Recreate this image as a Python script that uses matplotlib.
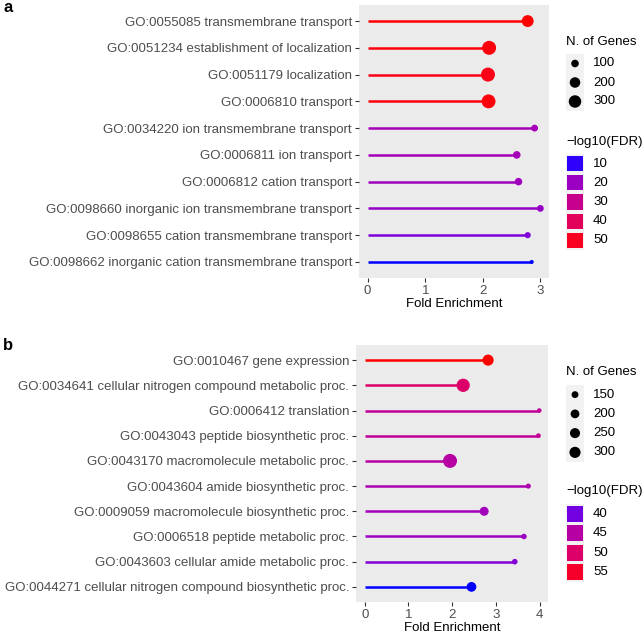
import numpy as np
import matplotlib.pyplot as plt
from matplotlib.colors import ListedColormap, Normalize
import matplotlib.transforms as mtrans

plt.rcParams['font.family'] = ['Liberation Sans', 'DejaVu Sans']

W, H = 643, 633

# ---- panel a data ----
terms_a = ['GO:0055085 transmembrane transport',
           'GO:0051234 establishment of localization',
           'GO:0051179 localization',
           'GO:0006810 transport',
           'GO:0034220 ion transmembrane transport',
           'GO:0006811 ion transport',
           'GO:0006812 cation transport',
           'GO:0098660 inorganic ion transmembrane transport',
           'GO:0098655 cation transmembrane transport',
           'GO:0098662 inorganic cation transmembrane transport']
fold_a = [2.78, 2.11, 2.09, 2.10, 2.90, 2.59, 2.62, 3.00, 2.78, 2.85]
genes_a = [266, 392, 395, 388, 84, 100, 98, 82, 71, 56]
fdr_a = [53, 52, 51, 52, 22, 22, 21, 19, 16, 9]
size_breaks_a = [100, 200, 300]
fdr_breaks_a = [10, 20, 30, 40, 50]

# ---- panel b data ----
terms_b = ['GO:0010467 gene expression',
           'GO:0034641 cellular nitrogen compound metabolic proc.',
           'GO:0006412 translation',
           'GO:0043043 peptide biosynthetic proc.',
           'GO:0043170 macromolecule metabolic proc.',
           'GO:0043604 amide biosynthetic proc.',
           'GO:0009059 macromolecule biosynthetic proc.',
           'GO:0006518 peptide metabolic proc.',
           'GO:0043603 cellular amide metabolic proc.',
           'GO:0044271 cellular nitrogen compound biosynthetic proc.']
fold_b = [2.82, 2.25, 3.99, 3.97, 1.95, 3.74, 2.73, 3.64, 3.43, 2.44]
genes_b = [299, 422, 122, 123, 472, 125, 209, 129, 130, 237]
fdr_b = [57, 50, 46, 46, 45, 44, 43, 42.5, 41, 37.5]
size_breaks_b = [150, 200, 250, 300]
fdr_breaks_b = [40, 45, 50, 55]


# blue -> red gradient interpolated in Lab (like ggplot)
def srgb2lab(c):
    c = np.asarray(c, float)
    lin = np.where(c > 0.04045, ((c + 0.055) / 1.055) ** 2.4, c / 12.92)
    M = np.array([[0.4124, 0.3576, 0.1805],
                  [0.2126, 0.7152, 0.0722],
                  [0.0193, 0.1192, 0.9505]])
    xyz = M @ lin / np.array([0.95047, 1.0, 1.08883])
    f = np.where(xyz > 0.008856, np.cbrt(xyz), 7.787 * xyz + 16 / 116)
    return np.array([116 * f[1] - 16, 500 * (f[0] - f[1]), 200 * (f[1] - f[2])])


def lab2srgb(lab):
    L, a, b = lab
    fy = (L + 16) / 116
    fx = fy + a / 500
    fz = fy - b / 200
    f = np.array([fx, fy, fz])
    xyz = np.where(f ** 3 > 0.008856, f ** 3, (f - 16 / 116) / 7.787)
    xyz = xyz * np.array([0.95047, 1.0, 1.08883])
    Minv = np.array([[3.2406, -1.5372, -0.4986],
                     [-0.9689, 1.8758, 0.0415],
                     [0.0557, -0.2040, 1.0570]])
    lin = np.clip(Minv @ xyz, 0, 1)
    return np.clip(np.where(lin > 0.0031308, 1.055 * lin ** (1 / 2.4) - 0.055, 12.92 * lin), 0, 1)


lab_lo = srgb2lab([0, 0, 1])
lab_hi = srgb2lab([1, 0, 0])
cmap = ListedColormap([lab2srgb(lab_lo + t * (lab_hi - lab_lo)) for t in np.linspace(0, 1, 256)])


def diam(n, lo, hi, dmin=4.0, dmax=14.0):
    f = np.clip((np.asarray(n, float) - lo) / (hi - lo), 0, 1)
    return dmin + (dmax - dmin) * np.sqrt(f)


def px_axes(fig, x0, y0, x1, y1):
    return fig.add_axes([x0 / W, 1 - y1 / H, (x1 - x0) / W, (y1 - y0) / H])


def panel(fig, box, terms, fold, genes, fdr, xmax, xticks, glim, flim):
    ax = px_axes(fig, *box)
    n = len(terms)
    y = np.arange(n)[::-1]
    norm = Normalize(*flim)
    cols = cmap(norm(np.array(fdr)))
    ax.hlines(y, 0, fold, colors=cols, lw=1.8, zorder=2)
    d = diam(genes, *glim)
    ax.scatter(fold, y, s=(d * 0.72) ** 2, c=cols, linewidths=0, zorder=3)
    ax.set_xlim(-0.05 * xmax, 1.05 * xmax)
    ax.set_ylim(-0.6, n - 0.4)
    ax.set_yticks(y)
    ax.set_yticklabels(terms)
    ax.set_xticks(xticks)
    ax.set_facecolor('#ebebeb')
    for s in ax.spines.values():
        s.set_visible(False)
    ax.tick_params(colors='#333333', labelcolor='#4d4d4d', labelsize=9.5,
                   length=3, width=0.8, pad=2)
    ax.set_xlabel('Fold Enrichment', fontsize=9.5, labelpad=1)
    return ax, norm


def size_legend(fig, x0, y0, y1, title, breaks, glim):
    ax = px_axes(fig, x0, y0, x0 + 18, y1)
    ax.set_xlim(0, 1)
    ax.set_ylim(len(breaks) - 0.5, -0.5)
    ax.axis('off')
    ax.add_patch(plt.Rectangle((0, 0), 1, 1, transform=ax.transAxes, color='#f2f2f2', zorder=0))
    yy = np.arange(len(breaks))
    ax.scatter(np.full(len(breaks), 0.5), yy, s=(diam(breaks, *glim) * 0.72) ** 2,
               c='black', linewidths=0, clip_on=False)
    tr = mtrans.blended_transform_factory(ax.transAxes, ax.transData)
    for i, b in enumerate(breaks):
        ax.text(1.5, i, str(b), transform=tr, va='center', fontsize=9.5)
    ax.text(0, -1.15, title, transform=tr, va='center', fontsize=9.5)


def color_legend(fig, x0, y0, y1, title, breaks, norm):
    ax = px_axes(fig, x0, y0, x0 + 18, y1)
    ax.set_xlim(0, 1)
    ax.set_ylim(len(breaks) - 0.5, -0.5)
    ax.axis('off')
    ax.add_patch(plt.Rectangle((0, 0), 1, 1, transform=ax.transAxes, color='#f2f2f2', zorder=0))
    yy = np.arange(len(breaks))
    ax.barh(yy, 0.92, left=0.04, height=0.8, color=cmap(norm(np.array(breaks, float))))
    tr = mtrans.blended_transform_factory(ax.transAxes, ax.transData)
    for i, b in enumerate(breaks):
        ax.text(1.5, i, str(b), transform=tr, va='center', fontsize=9.5)
    ax.text(0, -1.15, title, transform=tr, va='center', fontsize=9.5)


fig = plt.figure(figsize=(W / 100, H / 100), dpi=100)

glim_a = (56, 395)
flim_a = (9, 53)
ax_a, norm_a = panel(fig, (359, 5, 549, 278), terms_a, fold_a, genes_a, fdr_a,
                     3.0, [0, 1, 2, 3], glim_a, flim_a)
size_legend(fig, 566, 54, 111, 'N. of Genes', size_breaks_a, glim_a)
color_legend(fig, 566, 154, 250, '\u2212log10(FDR)', fdr_breaks_a, norm_a)

glim_b = (121, 472)
flim_b = (37.5, 57)
ax_b, norm_b = panel(fig, (356, 345, 548, 602), terms_b, fold_b, genes_b, fdr_b,
                     3.99, [0, 1, 2, 3, 4], glim_b, flim_b)
size_legend(fig, 566, 385, 462, 'N. of Genes', size_breaks_b, glim_b)
color_legend(fig, 566, 504, 582, '\u2212log10(FDR)', fdr_breaks_b, norm_b)

fig.text(3 / W, 1 - 8 / H, 'a', fontsize=12, fontweight='bold', va='center')
fig.text(3 / W, 1 - 345 / H, 'b', fontsize=12, fontweight='bold', va='center')

fig.savefig('out.png', dpi=100)
